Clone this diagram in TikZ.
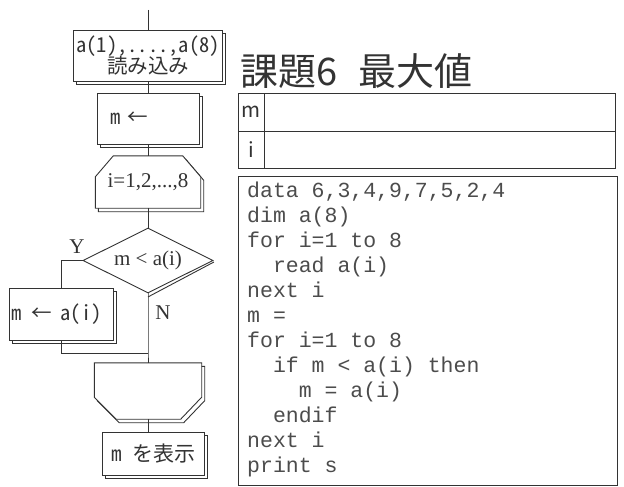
\documentclass[tikz,border=0pt]{standalone}
\usepackage{fontspec}
\usetikzlibrary{shapes.geometric,shadows,calc,backgrounds}
\newfontfamily\gothic{Noto Sans CJK JP}
\newfontfamily\gothichw[RawFeature=+hwid]{Noto Sans CJK JP}
\newfontfamily\serifx{Liberation Serif}
\newfontfamily\codefont{Liberation Mono}
\definecolor{ink}{gray}{0.2}
\definecolor{codeink}{gray}{0.3}
\begin{document}
\begin{tikzpicture}[x=1pt,y=-1pt,
  ln/.style={draw=ink, line width=0.9pt},
  flowbox/.style={rectangle, draw=ink, line width=0.9pt, fill=white, inner sep=0pt, text=ink,
     general shadow={shadow xshift=3pt, shadow yshift=-3.5pt, draw=ink, fill=white, line width=0.9pt}},
  lbl/.style={inner sep=0pt, text=ink},
  gfont/.style={font=\gothic\fontsize{20.5}{20.5}\selectfont},
  sfont/.style={font=\serifx\fontsize{21}{21}\selectfont},
  codeln/.style={anchor=base west, inner sep=0pt, text=codeink, font=\codefont\fontsize{21.5}{25}\selectfont},
  cell/.style={rectangle, draw=ink, line width=0.9pt, inner sep=0pt, text=ink},
]
\useasboundingbox (0,0) rectangle (624,487);

% ---------- flowchart ----------
\node[flowbox, gfont, minimum width=149pt, minimum height=51pt, align=center] (b1) at (148,55.5)
  {{\gothichw a(1),....,a(8)}\\[-1pt]{\gothic 読み込み}};
\node[flowbox, gfont, minimum height=51pt, text width=76pt, inner xsep=13pt, align=left] (b2) at (148,118.5)
  {{\gothichw m}\hspace{7pt}{\gothic ←}};

\node[lbl, minimum width=105pt, minimum height=52pt, font=\serifx\fontsize{21}{21}\selectfont] (ls) at (148,182) {i=1,2,...,8};
\node[shape=diamond, aspect=2, minimum width=130pt, minimum height=65pt, inner sep=0pt, draw=ink, line width=0.9pt, fill=white, text=ink, sfont] (d) at (148,260.5) {m < a(i)};
\node[flowbox, gfont, minimum height=52pt, text width=98pt, inner xsep=3pt, align=left] (b3) at (61,314)
  {{\gothichw m}\hspace{9pt}{\gothic ←}\hspace{9pt}{\gothichw a(i)}};
\node[lbl, minimum width=107pt, minimum height=56pt] (le) at (148,391) {};
\node[flowbox, minimum width=102pt, minimum height=43pt, font=\gothic\fontsize{21}{21}\selectfont] (b4) at (153,453.5)
  {{\gothichw m }{\gothic を表示}};

\node[lbl, sfont] (ylab) at (77,247) {Y};
\node[lbl, sfont] (nlab) at (163,313) {N};

\begin{scope}[on background layer]
  \fill[white] (0,0) rectangle (624,487);
  % loop start (shadow, then shape)
  \draw[ln, fill=white, transform canvas={shift={(3pt,-3.5pt)}}]
    (ls.south west) -- ($(ls.north west)+(0,21)$) -- ($(ls.north west)+(18,0)$) -- ($(ls.north east)+(-18,0)$) -- ($(ls.north east)+(0,21)$) -- (ls.south east) -- cycle;
  \draw[ln, fill=white]
    (ls.south west) -- ($(ls.north west)+(0,21)$) -- ($(ls.north west)+(18,0)$) -- ($(ls.north east)+(-18,0)$) -- ($(ls.north east)+(0,21)$) -- (ls.south east) -- cycle;
  % loop end
  \draw[ln, fill=white, transform canvas={shift={(3pt,-3.5pt)}}]
    (le.north west) -- (le.north east) -- ($(le.south east)+(0,-22)$) -- ($(le.south east)+(-21,0)$) -- ($(le.south west)+(22,0)$) -- ($(le.south west)+(0,-22)$) -- cycle;
  \draw[ln, fill=white]
    (le.north west) -- (le.north east) -- ($(le.south east)+(0,-22)$) -- ($(le.south east)+(-21,0)$) -- ($(le.south west)+(22,0)$) -- ($(le.south west)+(0,-22)$) -- cycle;
\end{scope}

% diamond shadow
\draw[ln] ([shift={(0.5pt,-1.5pt)}]d.east) -- ([shift={(0pt,-3.5pt)}]d.south);

% connectors
\coordinate (top) at (148,10);
\coordinate (mj) at (148,353);
\draw[ln] (top) -- (b1.north);
\draw[ln] (b1.south) -- (b2.north);
\draw[ln] (b2.south) -- (ls.north);
\draw[ln] (ls.south) -- (d.north);
\draw[ln] (d.west) -| (b3.north);
\draw[ln] (d.south) -- (mj) -- (le.north);
\draw[ln] (b3.south) |- (mj);
\draw[ln] (le.south) -- (le.south |- b4.north);

% ---------- title ----------
\node[lbl, anchor=base west, font=\gothic\fontsize{38}{38}\selectfont] (title) at (240,85) {課題6\hspace{21pt}最大値};

% ---------- table ----------
\node[cell, minimum width=26pt, minimum height=38pt, gfont] (tm) at (251,112) {m};
\node[cell, minimum width=351pt, minimum height=38pt] (tmv) at (439.5,112) {};
\node[cell, minimum width=26pt, minimum height=37pt, gfont] (ti) at (251,149.5) {i};
\node[cell, minimum width=351pt, minimum height=37pt] (tiv) at (439.5,149.5) {};

% ---------- code ----------
\node[cell, minimum width=379pt, minimum height=309pt] (codebox) at (427.5,330.5) {};
\node[codeln] (c1) at (247,197) {data 6,3,4,9,7,5,2,4};
\node[codeln] (c2) at (247,222) {dim a(8)};
\node[codeln] (c3) at (247,247) {for i=1 to 8};
\node[codeln] (c4) at (247,272) {\phantom{xx}read a(i)};
\node[codeln] (c5) at (247,297) {next i};
\node[codeln] (c6) at (247,322) {m =};
\node[codeln] (c7) at (247,347) {for i=1 to 8};
\node[codeln] (c8) at (247,372) {\phantom{xx}if m < a(i) then};
\node[codeln] (c9) at (247,397) {\phantom{xxxx}m = a(i)};
\node[codeln] (c10) at (247,422) {\phantom{xx}endif};
\node[codeln] (c11) at (247,447) {next i};
\node[codeln] (c12) at (247,472) {print s};
\end{tikzpicture}
\end{document}
